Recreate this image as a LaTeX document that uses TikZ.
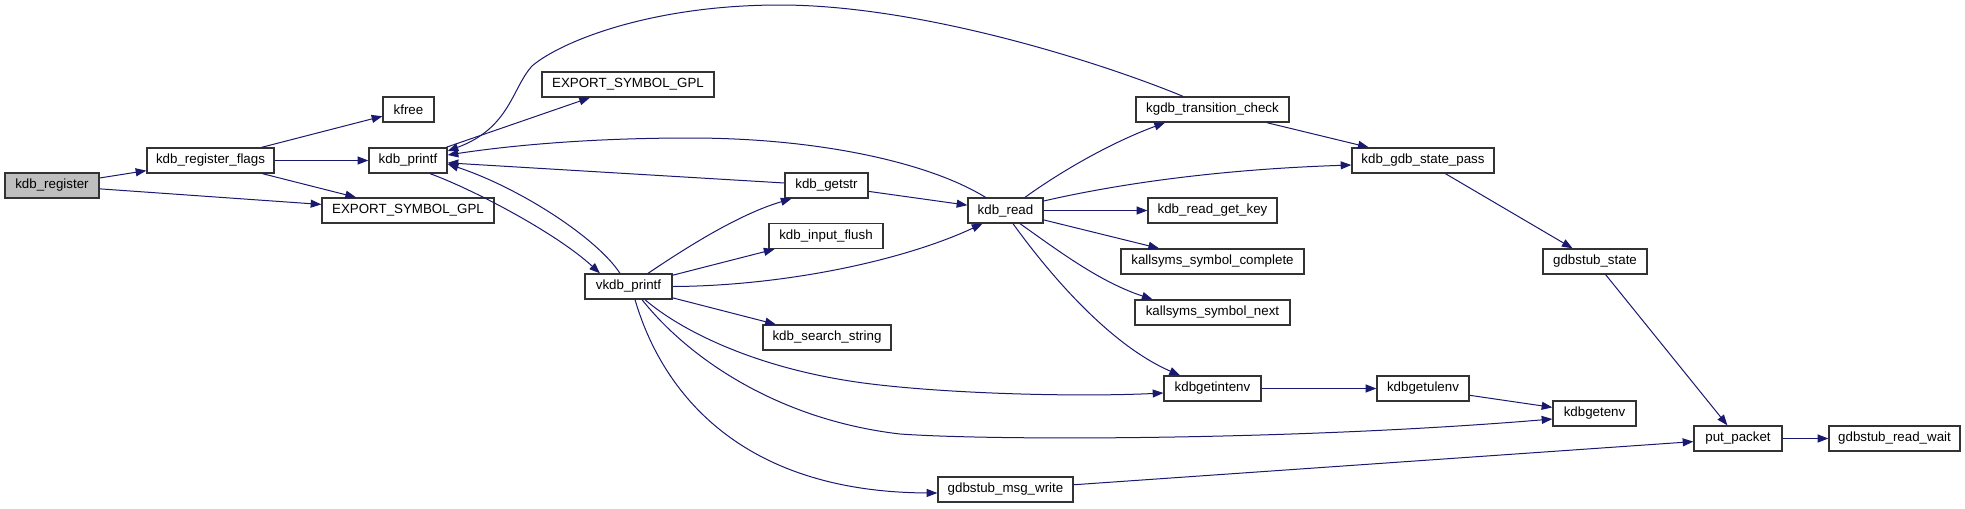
\documentclass[tikz,border=0pt]{standalone}
\usepackage{fontspec}
\setmainfont{Liberation Sans}
\usetikzlibrary{arrows.meta,calc}
\definecolor{edgec}{HTML}{191970}
\definecolor{boxc}{HTML}{333333}
\definecolor{rootc}{HTML}{BFBFBF}
\begin{document}
\begin{tikzpicture}[x=0.75pt,y=-0.75pt,
  box/.style={draw=boxc, line width=1pt, fill=white, minimum height=18.75pt, inner sep=0pt,
              font=\fontsize{10}{12}\selectfont},
  link/.style={draw=edgec, line width=0.75pt, -{Triangle[length=8pt,width=6pt]}}]
\useasboundingbox (0,0) rectangle (1965,508);
\fill[white] (0,0) rectangle (1965,508);

% nodes
\node[box, fill=rootc, minimum width=94*0.75pt] (reg) at (52,185.5) {kdb\_register};
\node[box, minimum width=127*0.75pt] (flags) at (210.5,160.5) {kdb\_register\_flags};
\node[box, minimum width=51*0.75pt] (kfree) at (408.5,109.5) {kfree};
\node[box, minimum width=78*0.75pt] (printf) at (408,160.5) {kdb\_printf};
\node[box, minimum width=172*0.75pt] (expB) at (408,210.5) {EXPORT\_SYMBOL\_GPL};
\node[box, minimum width=172*0.75pt] (expT) at (628,84.5) {EXPORT\_SYMBOL\_GPL};
\node[box, minimum width=87*0.75pt] (vkdb) at (628.5,286.5) {vkdb\_printf};
\node[box, minimum width=83*0.75pt] (getstr) at (826.5,185.5) {kdb\_getstr};
\node[box, minimum width=114*0.75pt] (flush) at (826,236) {kdb\_input\_flush};
\node[box, minimum width=128*0.75pt] (search) at (827,337.5) {kdb\_search\_string};
\node[box, minimum width=75*0.75pt] (read) at (1005.5,210.5) {kdb\_read};
\node[box, minimum width=153*0.75pt] (ktc) at (1212.5,109.5) {kgdb\_transition\_check};
\node[box, minimum width=129*0.75pt] (getkey) at (1212.5,210.5) {kdb\_read\_get\_key};
\node[box, minimum width=183*0.75pt] (ksc) at (1212.5,261.5) {kallsyms\_symbol\_complete};
\node[box, minimum width=155*0.75pt] (ksn) at (1212.5,312.5) {kallsyms\_symbol\_next};
\node[box, minimum width=97*0.75pt] (intenv) at (1212.5,388.5) {kdbgetintenv};
\node[box, minimum width=142*0.75pt] (gsp) at (1423,160.5) {kdb\_gdb\_state\_pass};
\node[box, minimum width=92*0.75pt] (ulenv) at (1423,388.5) {kdbgetulenv};
\node[box, minimum width=135*0.75pt] (msgw) at (1005.5,489.5) {gdbstub\_msg\_write};
\node[box, minimum width=104*0.75pt] (gstate) at (1595,261.5) {gdbstub\_state};
\node[box, minimum width=83*0.75pt] (getenv) at (1594.5,413.5) {kdbgetenv};
\node[box, minimum width=88*0.75pt] (putp) at (1738,438.5) {put\_packet};
\node[box, minimum width=131*0.75pt] (rwait) at (1894.5,438.5) {gdbstub\_read\_wait};

% edges
\draw[link] (reg) -- (flags);
\draw[link] (reg) -- (expB);
\draw[link] (flags) -- (kfree);
\draw[link] (flags) -- (printf);
\draw[link] (flags) -- (expB);
\draw[link] (printf) -- (expT);
\draw[link] ($(printf.south)+(22,0)$) .. controls (470,188) and (555,232) .. ($(vkdb.north)+(-28.5,0)$);
\draw[link] ($(vkdb.north)+(-8.5,0)$) .. controls (597,238) and (520,188) .. ($(printf.east)+(0,3.5)$);
\draw[link] ($(ktc.north)+(-29.5,0)$) .. controls (1100,62) and (920,5) .. (780,5)
   .. controls (650,5) and (560,42) .. (532,66)
   .. controls (512,88) and (510,128) .. ($(printf.east)+(0,-9.5)$);
\draw[link] ($(read.north)+(-20,0)$) .. controls (930,163) and (820,138) .. (690,138)
   .. controls (580,138) and (500,147) .. ($(printf.east)+(0,-5.5)$);
\draw[link] (getstr) -- (printf);
\draw[link] ($(vkdb.north)+(19.5,0)$) .. controls (690,245) and (740,214) .. ($(getstr.south)+(-35,0)$);
\draw[link] (vkdb) -- (flush);
\draw[link] (vkdb.east) .. controls (780,286) and (900,262) .. ($(read.south)+(-23,0)$);
\draw[link] (vkdb) -- (search);
\draw[link] ($(vkdb.south)+(16.5,0)$) .. controls (680,330) and (760,372) .. (880,385)
   .. controls (960,394) and (1080,397) .. ($(intenv.west)+(0,4.5)$);
\draw[link] ($(vkdb.south)+(13.5,0)$) .. controls (690,360) and (780,420) .. (900,434)
   .. controls (1000,441) and (1300,440) .. ($(getenv.west)+(0,5.5)$);
\draw[link] ($(vkdb.south)+(6.5,0)$) .. controls (662,392) and (740,492) .. ($(msgw.west)+(0,3.5)$);
\draw[link] (getstr) -- (read);
\draw[link] ($(read.north)+(19.5,0)$) .. controls (1060,172) and (1110,143) .. ($(ktc.south)+(-47.5,0)$);
\draw[link] ($(read.east)+(0,-9.5)$) .. controls (1100,188) and (1200,170) .. ($(gsp.west)+(0,4.5)$);
\draw[link] (read) -- (getkey);
\draw[link] (read) -- (ksc);
\draw[link] ($(read.south)+(14.5,0)$) .. controls (1060,252) and (1100,282) .. ($(ksn.north)+(-60,0)$);
\draw[link] ($(read.south)+(7.5,0)$) .. controls (1050,275) and (1110,345) .. ($(intenv.north)+(-32.5,0)$);
\draw[link] (ktc) -- (gsp);
\draw[link] (gsp) -- (gstate);
\draw[link] (gstate) -- (putp);
\draw[link] (intenv) -- (ulenv);
\draw[link] (ulenv) -- (getenv);
\draw[link] (msgw) -- (putp);
\draw[link] (putp) -- (rwait);
\end{tikzpicture}
\end{document}
